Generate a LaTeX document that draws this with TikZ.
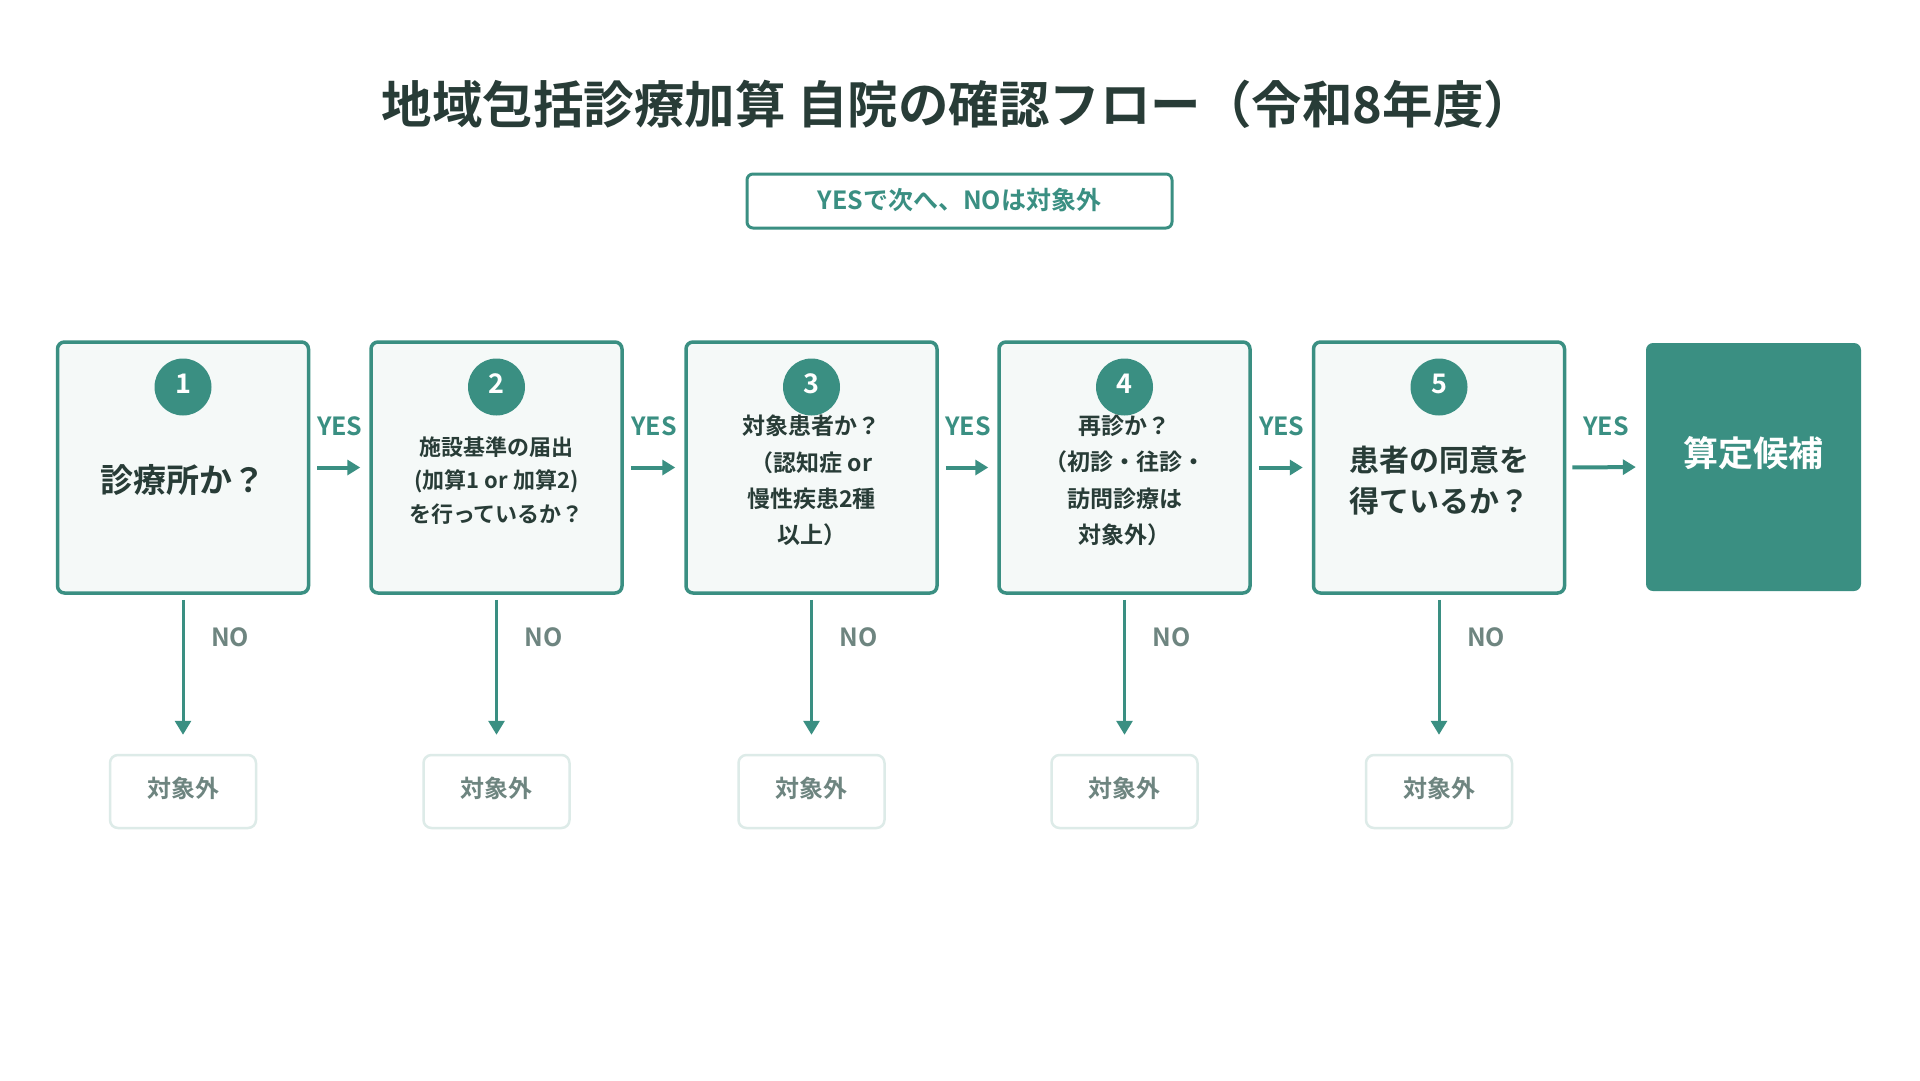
\documentclass[tikz,border=0pt]{standalone}
\usepackage{fontspec}
\setmainfont{Noto Sans CJK JP}[BoldFont={* Bold}]
\usetikzlibrary{arrows.meta}
\definecolor{teal}{HTML}{3A8F82}
\definecolor{dark}{HTML}{283C37}
\definecolor{boxfill}{HTML}{F5F9F8}
\definecolor{graytext}{HTML}{6E8580}
\definecolor{lightborder}{HTML}{DDEBE8}
\newcommand{\myfs}[2]{\fontsize{#1}{#2}\selectfont}
\newcommand{\up}[2]{\raisebox{#1pt}{#2}}
\tikzset{
  qbox/.style={draw=teal, line width=3.5, fill=boxfill, rounded corners=7, minimum width=251, minimum height=251, inner sep=0},
  finalbox/.style={fill=teal, rounded corners=7, minimum width=215, minimum height=248, inner sep=0},
  numc/.style={circle, fill=teal, minimum size=57, inner sep=0, text=white, font=\myfs{27}{30}\bfseries},
  qtext/.style={align=center, text=dark, inner sep=0},
  xbox/.style={draw=lightborder, line width=2.5, fill=white, rounded corners=8, minimum width=146, minimum height=73, inner sep=0, text=graytext, font=\myfs{24}{28}\bfseries},
  yesarrow/.style={draw=teal, line width=4, -{Triangle[length=13pt,width=15pt]}},
  noarrow/.style={draw=teal, line width=3, -{Triangle[length=14pt,width=16pt]}},
  yeslbl/.style={text=teal, font=\myfs{25}{28}\bfseries, inner sep=0},
  nolbl/.style={text=graytext, font=\myfs{25}{28}\bfseries, inner sep=0},
}
\begin{document}
\begin{tikzpicture}[x=1pt,y=-1pt]
\fill[white] (0,0) rectangle (1920,1080);
\useasboundingbox (0,0) rectangle (1920,1080);

\node[text=dark, font=\myfs{50.5}{60}\bfseries, inner sep=0] (title) at (958,104) {地域包括診療加算 自院の確認フロー（令和8年度）};

\node[draw=teal, line width=3, fill=white, rounded corners=6, minimum width=425, minimum height=54, text=teal, font=\myfs{25}{30}\bfseries] (sub) at (959.5,201) {\up{3.5}{YESで次へ、NOは対象外}};

% question boxes
\node[qbox] (b1) at (183,467.5) {};
\node[qbox] (b2) at (496.5,467.5) {};
\node[qbox] (b3) at (811.5,467.5) {};
\node[qbox] (b4) at (1124.5,467.5) {};
\node[qbox] (b5) at (1439,467.5) {};
\node[finalbox] (fin) at (1753.5,467) {};

\node[numc] (c1) at (183,387) {\up{7}{1}};
\node[numc] (c2) at (496.5,387) {\up{7}{2}};
\node[numc] (c3) at (811.5,387) {\up{7}{3}};
\node[numc] (c4) at (1124.5,387) {\up{7}{4}};
\node[numc] (c5) at (1439,387) {\up{7}{5}};

\node[qtext, font=\myfs{33}{40}\bfseries] (t1) at (183,480) {診療所か？};
\node[qtext, font=\myfs{22}{33.5}\bfseries] (t2) at (496.5,480.5) {施設基準の届出\\(加算1 or 加算2)\\を行っているか？};
\node[qtext, font=\myfs{23}{36.3}\bfseries] (t3) at (811.5,480.5) {対象患者か？\\（認知症 or\\慢性疾患2種\\以上）};
\node[qtext, font=\myfs{23}{36.3}\bfseries] (t4) at (1124.5,480.5) {再診か？\\（初診・往診・\\訪問診療は\\対象外）};
\node[qtext, font=\myfs{30}{41}\bfseries] (t5) at (1439,480.5) {患者の同意を\\得ているか？};
\node[qtext, text=white, font=\myfs{35}{42}\bfseries] (tf) at (1753.5,453) {算定候補};

% YES arrows
\draw[yesarrow, shorten <=7, shorten >=9] (b1.east) -- (b2.west) node[yeslbl, midway, yshift=41] {YES};
\draw[yesarrow, shorten <=7, shorten >=9] (b2.east) -- (b3.west) node[yeslbl, midway, yshift=41] {YES};
\draw[yesarrow, shorten <=7, shorten >=9] (b3.east) -- (b4.west) node[yeslbl, midway, yshift=41] {YES};
\draw[yesarrow, shorten <=7, shorten >=9] (b4.east) -- (b5.west) node[yeslbl, midway, yshift=41] {YES};
\draw[yesarrow, shorten <=6, shorten >=10] (b5.east) -- (fin.west) node[yeslbl, midway, yshift=41] {YES};

% exclusion boxes
\node[xbox] (x1) at (183,791.5) {\up{9}{対象外}};
\node[xbox] (x2) at (496.5,791.5) {\up{9}{対象外}};
\node[xbox] (x3) at (811.5,791.5) {\up{9}{対象外}};
\node[xbox] (x4) at (1124.5,791.5) {\up{9}{対象外}};
\node[xbox] (x5) at (1439,791.5) {\up{9}{対象外}};

% NO arrows
\draw[noarrow, shorten <=5, shorten >=19] (b1.south) -- (x1.north) node[nolbl, pos=0.27, xshift=47] {NO};
\draw[noarrow, shorten <=5, shorten >=19] (b2.south) -- (x2.north) node[nolbl, pos=0.27, xshift=47] {NO};
\draw[noarrow, shorten <=5, shorten >=19] (b3.south) -- (x3.north) node[nolbl, pos=0.27, xshift=47] {NO};
\draw[noarrow, shorten <=5, shorten >=19] (b4.south) -- (x4.north) node[nolbl, pos=0.27, xshift=47] {NO};
\draw[noarrow, shorten <=5, shorten >=19] (b5.south) -- (x5.north) node[nolbl, pos=0.27, xshift=47] {NO};
\end{tikzpicture}
\end{document}
